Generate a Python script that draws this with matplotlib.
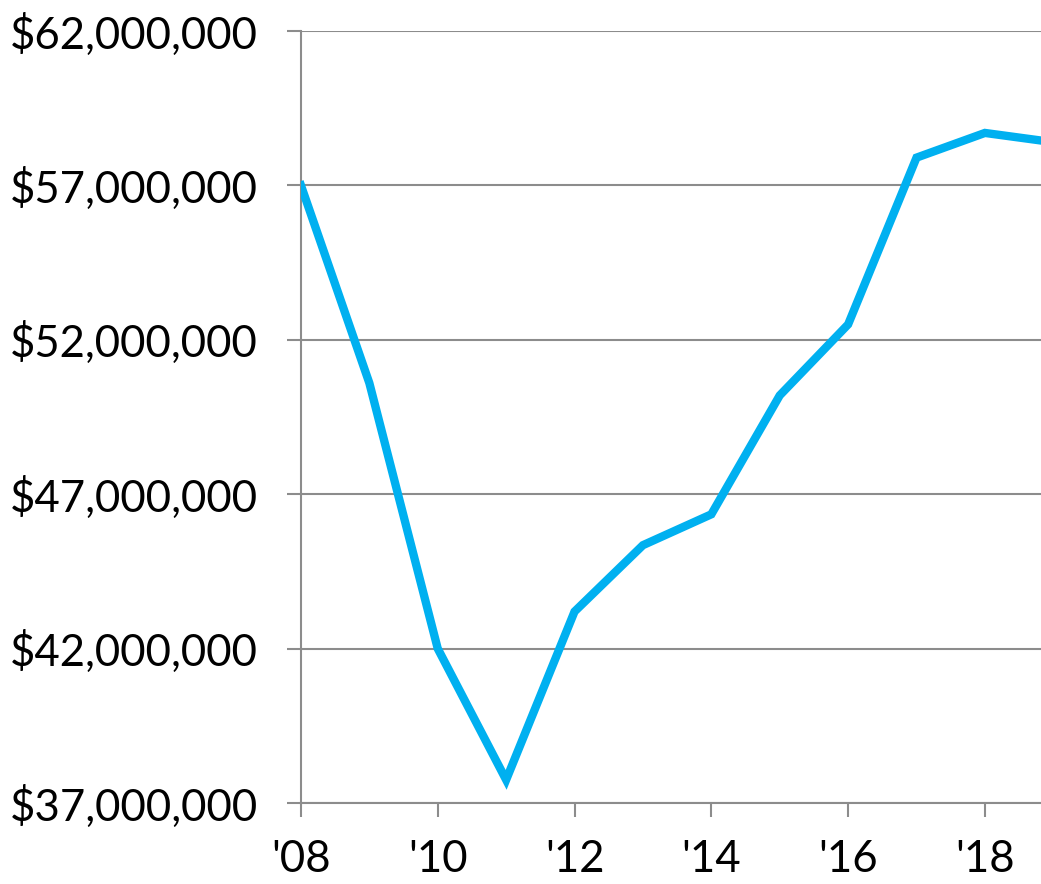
import matplotlib.pyplot as plt
from matplotlib.ticker import FuncFormatter

years = [2008, 2009, 2010, 2011, 2012, 2013, 2014, 2015, 2016, 2017, 2018, 2019]
values = [57.0, 50.6, 42.0, 37.75, 43.2, 45.35, 46.35, 50.2, 52.5, 57.9, 58.7, 58.4]  # millions
x_ticks = [2008, 2010, 2012, 2014, 2016, 2018]
y_ticks = [37, 42, 47, 52, 57, 62]  # millions

plt.rcParams['font.family'] = ['Lato', 'DejaVu Sans']

fig = plt.figure(figsize=(10.41, 8.84), dpi=100)
ax = fig.add_axes([0.2891, 0.0916, 0.7109, 0.8733])

grey = '#8c8c8c'
ax.plot(years, [v * 1e6 for v in values], color='#00b0f0', lw=6, solid_joinstyle='miter', zorder=3)

ax.set_xlim(2008, 2018.82)
ax.set_ylim(37e6, 62e6)
ax.set_yticks([t * 1e6 for t in y_ticks])
ax.yaxis.set_major_formatter(FuncFormatter(lambda v, _: f'${v:,.0f}'))
ax.set_xticks(x_ticks)
ax.set_xticklabels([f"'{y % 100:02d}" for y in x_ticks])
ax.grid(axis='y', color=grey, lw=1.5)
ax.set_axisbelow(True)

for s in ['top', 'right']:
    ax.spines[s].set_visible(False)
for s in ['left', 'bottom']:
    ax.spines[s].set_color(grey)
    ax.spines[s].set_linewidth(1.5)

ax.tick_params(axis='both', colors=grey, width=1.5, length=10, labelcolor='black', labelsize=31.5)
ax.tick_params(axis='x', pad=16)
ax.tick_params(axis='y', pad=21)

fig.savefig('out.png', dpi=100)
